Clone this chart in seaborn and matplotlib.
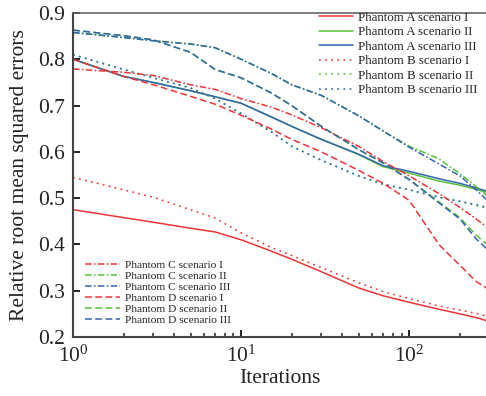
import numpy as np
import pandas as pd
import matplotlib
matplotlib.use("Agg")
import matplotlib.pyplot as plt
import seaborn as sns
from matplotlib.ticker import LogLocator, FixedLocator, NullFormatter

# ---------------- data ----------------
iterations = [1, 2, 3, 5, 7, 10, 15, 20, 30, 50, 70, 100, 150, 200, 250, 290]

a1 = [0.475, 0.458, 0.448, 0.435, 0.427, 0.410, 0.386, 0.368, 0.341, 0.306, 0.289, 0.275, 0.260, 0.250, 0.242, 0.235]
a2 = [0.800, 0.763, 0.750, 0.732, 0.719, 0.705, 0.676, 0.655, 0.627, 0.594, 0.568, 0.554, 0.537, 0.528, 0.519, 0.512]
a3 = [0.800, 0.763, 0.750, 0.732, 0.719, 0.705, 0.676, 0.655, 0.627, 0.595, 0.570, 0.558, 0.542, 0.532, 0.522, 0.515]
b1 = [0.545, 0.518, 0.502, 0.475, 0.457, 0.425, 0.394, 0.376, 0.350, 0.317, 0.298, 0.283, 0.267, 0.258, 0.251, 0.245]
b2 = [0.810, 0.778, 0.760, 0.738, 0.715, 0.683, 0.644, 0.612, 0.582, 0.548, 0.530, 0.518, 0.502, 0.493, 0.484, 0.478]
b3 = [0.810, 0.778, 0.760, 0.738, 0.715, 0.683, 0.644, 0.612, 0.582, 0.548, 0.530, 0.518, 0.502, 0.493, 0.486, 0.480]
c1 = [0.779, 0.772, 0.765, 0.745, 0.735, 0.715, 0.697, 0.680, 0.652, 0.612, 0.579, 0.548, 0.510, 0.480, 0.455, 0.437]
c2 = [0.858, 0.847, 0.840, 0.833, 0.825, 0.800, 0.770, 0.745, 0.722, 0.678, 0.645, 0.612, 0.585, 0.553, 0.525, 0.505]
c3 = [0.858, 0.847, 0.840, 0.833, 0.825, 0.800, 0.770, 0.745, 0.722, 0.678, 0.645, 0.610, 0.574, 0.548, 0.518, 0.496]
d1 = [0.800, 0.763, 0.745, 0.720, 0.703, 0.679, 0.650, 0.627, 0.600, 0.560, 0.532, 0.495, 0.400, 0.355, 0.320, 0.305]
d2 = [0.863, 0.851, 0.842, 0.815, 0.778, 0.760, 0.728, 0.700, 0.655, 0.605, 0.576, 0.540, 0.492, 0.458, 0.420, 0.400]
d3 = [0.863, 0.851, 0.842, 0.815, 0.778, 0.760, 0.728, 0.700, 0.655, 0.605, 0.576, 0.540, 0.490, 0.455, 0.412, 0.390]

labels = [
    "Phantom A scenario I", "Phantom A scenario II", "Phantom A scenario III",
    "Phantom B scenario I", "Phantom B scenario II", "Phantom B scenario III",
    "Phantom C scenario I", "Phantom C scenario II", "Phantom C scenario III",
    "Phantom D scenario I", "Phantom D scenario II", "Phantom D scenario III",
]
series = [a1, a2, a3, b1, b2, b3, c1, c2, c3, d1, d2, d3]

y_ticks = [0.2, 0.3, 0.4, 0.5, 0.6, 0.7, 0.8, 0.9]
x_label = "Iterations"
y_label = "Relative root mean squared errors"

# ---------------- style ----------------
red, green, blue = "#ee3535", "#55c23a", "#3365b0"
colors = [red, green, blue] * 4
solid = "-"
dotted = (0, (1.2, 2.8))
dashed = (0, (4.5, 2.2))
dashdot = (0, (4.3, 1.5, 1.1, 1.5))
styles = [solid] * 3 + [dotted] * 3 + [dashdot] * 3 + [dashed] * 3

sns.set_theme(style="ticks")
plt.rcParams["font.family"] = ["Liberation Serif", "DejaVu Serif"]
plt.rcParams["mathtext.fontset"] = "stix"
plt.rcParams.update({
    "xtick.direction": "in", "ytick.direction": "in",
    "xtick.major.size": 5, "ytick.major.size": 5,
    "xtick.minor.size": 3, "xtick.major.width": 1.4, "ytick.major.width": 1.4,
    "xtick.minor.width": 1.1, "xtick.color": "#222222", "ytick.color": "#222222",
    "xtick.top": False, "ytick.right": False,
})

fig = plt.figure(figsize=(4.86, 3.96), dpi=100)
ax = fig.add_axes([73 / 486, 1 - 337 / 396, 414 / 486, 324 / 396])

for vals, lab, col, ls in zip(series, labels, colors, styles):
    df = pd.DataFrame({"it": iterations, "err": vals})
    sns.lineplot(data=df, x="it", y="err", ax=ax, color=col, linestyle=ls,
                 linewidth=1.1, label=lab, legend=False)

ax.set_xscale("log")
ax.set_xlim(1, 290)
ax.set_ylim(0.2, 0.9)
ax.yaxis.set_major_locator(FixedLocator(y_ticks))
ax.set_yticklabels([f"{t:.1f}" for t in y_ticks])
ax.xaxis.set_major_locator(LogLocator(base=10, numticks=10))
ax.xaxis.set_minor_locator(LogLocator(base=10, subs=np.arange(2, 10), numticks=10))
ax.xaxis.set_minor_formatter(NullFormatter())

ax.tick_params(axis="both", which="major", labelsize=15.5, labelcolor="#222222", pad=6)

ax.set_xlabel(x_label, fontsize=15.5, color="#222222", labelpad=2)
ax.set_ylabel(y_label, fontsize=15.5, color="#222222", labelpad=6)

for side in ["left", "bottom"]:
    ax.spines[side].set_color("#444444")
    ax.spines[side].set_linewidth(1.5)
ax.spines["top"].set_color("#666666")
ax.spines["top"].set_linewidth(1.2)
ax.spines["right"].set_visible(False)

handles = ax.get_lines()
leg1 = fig.legend(handles[:6], labels[:6], loc="upper left",
                  bbox_to_anchor=(319 / 486, 1 - 11.5 / 396), bbox_transform=fig.transFigure,
                  frameon=False, fontsize=9.3, handlelength=2.65, handletextpad=0.4,
                  labelspacing=0.19, borderpad=0, borderaxespad=0)
leg2 = fig.legend(handles[6:], labels[6:], loc="upper left",
                  bbox_to_anchor=(85 / 486, 1 - 260.5 / 396), bbox_transform=fig.transFigure,
                  frameon=False, fontsize=8.2, handlelength=3.05, handletextpad=0.45,
                  labelspacing=0.09, borderpad=0, borderaxespad=0)
for leg in (leg1, leg2):
    for t in leg.get_texts():
        t.set_color("#222222")

fig.savefig("out.png", dpi=100)
